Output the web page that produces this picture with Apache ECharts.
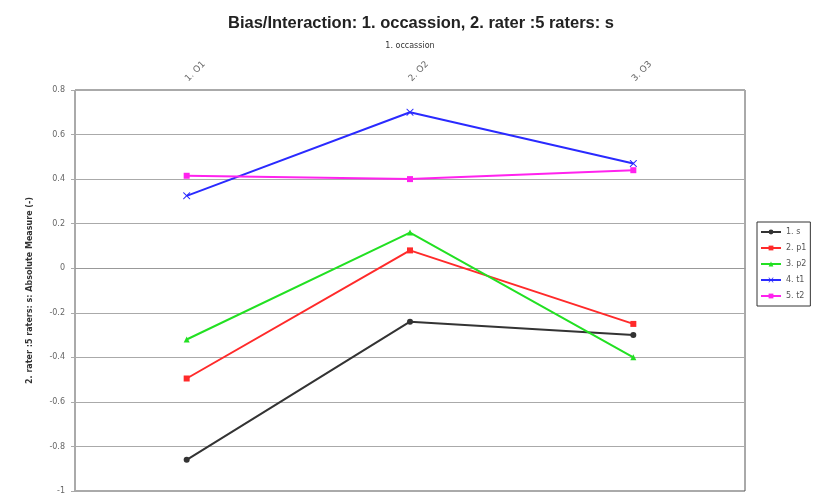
<!DOCTYPE html>
<html><head><meta charset="utf-8">
<script src="https://cdn.jsdelivr.net/npm/echarts@6/dist/echarts.min.js"></script>
<style>html,body{margin:0;padding:0;background:#fff}#c{width:814px;height:500px}</style>
</head><body><div id="c"></div>
<script>
const categories = ["1. O1", "2. O2", "3. O3"];
const seriesNames = ["1. s", "2. p1", "3. p2", "4. t1", "5. t2"];
const sValues = [-0.86, -0.24, -0.30];
const p1Values = [-0.495, 0.08, -0.25];
const p2Values = [-0.32, 0.16, -0.40];
const t1Values = [0.325, 0.70, 0.47];
const t2Values = [0.415, 0.40, 0.44];
const colors = ["#333333", "#ff2a2a", "#22e022", "#2a2aff", "#ff22ee"];
const symbols = ["circle", "rect", "triangle", "path://M0,0L1,0L10,9L10,10L9,10L0,1Z M10,0L10,1L1,10L0,10L0,9L9,0Z", "rect"];
const allValues = [sValues, p1Values, p2Values, t1Values, t2Values];

const chart = echarts.init(document.getElementById('c'));
chart.setOption({
  backgroundColor: '#fff',
  animation: false,
  title: {
    text: 'Bias/Interaction: 1. occassion, 2. rater :5 raters: s',
    left: 416, top: 10, textAlign: 'center',
    textStyle: {fontFamily: 'Liberation Sans, Arial', fontSize: 16.5, fontWeight: 'bold', color: '#222'}
  },
  legend: {
    orient: 'vertical', left: 757, top: 222,
    data: seriesNames,
    itemWidth: 20, itemHeight: 6, itemGap: 8,
    padding: [6, 4, 6, 3],
    borderColor: '#333', borderWidth: 1,
    textStyle: {fontSize: 8, color: '#555', fontFamily: 'DejaVu Sans'}
  },
  grid: {left: 75, right: 69, top: 90, bottom: 9, show: true, borderColor: '#555', borderWidth: 1},
  xAxis: {
    type: 'category', data: categories, position: 'top',
    name: '1. occassion', nameLocation: 'middle', nameGap: 40,
    nameTextStyle: {fontSize: 8, color: '#333', fontFamily: 'DejaVu Sans'},
    axisLine: {lineStyle: {color: '#999'}},
    axisTick: {show: false},
    axisLabel: {rotate: 45, fontSize: 9, color: '#666', margin: 10, fontFamily: 'DejaVu Sans'},
    splitLine: {show: false}
  },
  yAxis: {
    type: 'value', min: -1, max: 0.8, interval: 0.2,
    name: '2. rater :5 raters: s: Absolute Measure (-)', nameLocation: 'middle', nameGap: 41,
    nameTextStyle: {fontSize: 8, color: '#333', fontWeight: 'bold', fontFamily: 'DejaVu Sans'},
    axisLine: {show: true, lineStyle: {color: '#aaa'}},
    axisTick: {show: true, length: 4, lineStyle: {color: '#aaa'}},
    axisLabel: {fontSize: 8, color: '#666', margin: 10, fontFamily: 'DejaVu Sans',
      formatter: v => String(Math.round(v * 10) / 10)},
    splitLine: {lineStyle: {color: '#aaa', width: 1}}
  },
  series: seriesNames.map((n, i) => ({
    name: n, type: 'line', data: allValues[i],
    symbol: symbols[i], symbolSize: i === 3 ? 7 : 6,
    showAllSymbol: true,
    lineStyle: {color: colors[i], width: 2},
    itemStyle: {color: colors[i], borderColor: colors[i], borderWidth: 0}
  }))
});
</script></body></html>
